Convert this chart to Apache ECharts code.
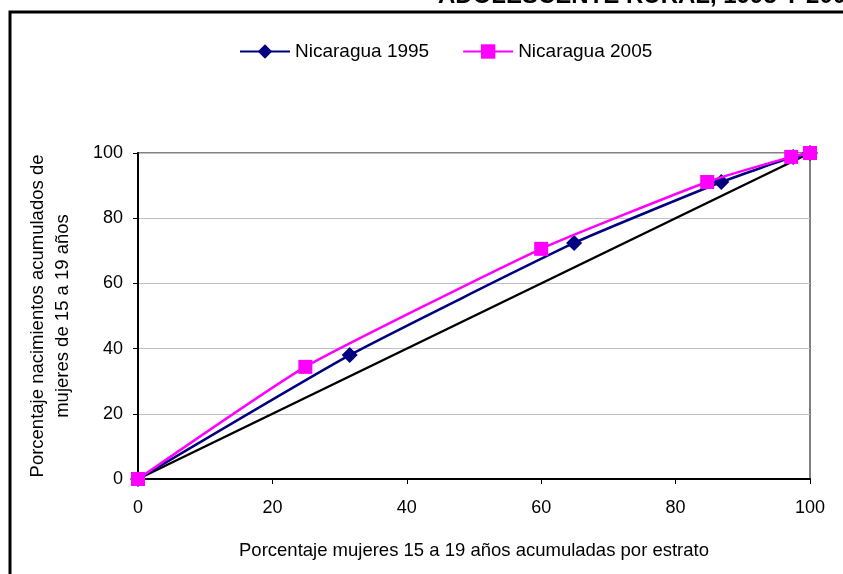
<!DOCTYPE html>
<html>
<head>
<meta charset="utf-8">
<script src="https://cdn.jsdelivr.net/npm/echarts@6/dist/echarts.min.js"></script>
<style>
  html, body { margin: 0; padding: 0; background: #fff; }
  #chart { width: 843px; height: 574px; }
</style>
</head>
<body>
<div id="chart"></div>
<script>
// Cumulative share of women 15-19 (x) vs cumulative share of births (y)
const x1995 = [0, 31.5, 64.9, 86.8, 97.5, 100];
const y1995 = [0, 38.0, 72.4, 91.1, 98.8, 100];
const x2005 = [0, 24.9, 60.0, 84.7, 97.2, 100];
const y2005 = [0, 34.4, 70.6, 91.1, 98.8, 100];
const xEqual = [0, 100];
const yEqual = [0, 100];
const seriesNames = ['Nicaragua 1995', 'Nicaragua 2005'];

const pair = (xs, ys) => xs.map((v, i) => [v, ys[i]]);
const FONT = '"Liberation Sans", Arial, sans-serif';

const chart = echarts.init(document.getElementById('chart'), null, { renderer: 'canvas' });
chart.setOption({
  backgroundColor: '#ffffff',
  animation: false,
  textStyle: { fontFamily: FONT, color: '#000' },
  graphic: [
    {
      type: 'rect',
      shape: { x: 10, y: 12, width: 900, height: 700 },
      style: { fill: 'none', stroke: '#000', lineWidth: 3 },
      z: 0
    },
    {
      type: 'text',
      x: 438, y: 8,
      style: {
        text: 'ADOLESCENTE RURAL, 1995 Y 2005',
        font: 'bold 24px ' + FONT,
        fill: '#000',
        verticalAlign: 'bottom'
      }
    }
  ],
  legend: {
    data: seriesNames,
    top: 37,
    left: 234,
    itemWidth: 50,
    itemHeight: 18,
    itemGap: 33,
    textStyle: { fontSize: 19, fontFamily: FONT, color: '#000' }
  },
  grid: {
    left: 138, right: 33, top: 153, bottom: 95,
    show: true,
    borderColor: '#808080',
    borderWidth: 2,
    containLabel: false
  },
  xAxis: {
    type: 'value',
    min: 0, max: 100, interval: 20,
    name: 'Porcentaje mujeres 15 a 19 años acumuladas por estrato',
    nameLocation: 'middle',
    nameGap: 62,
    nameTextStyle: { fontSize: 18.5, fontFamily: FONT, color: '#000' },
    axisLine: { lineStyle: { color: '#000', width: 2 } },
    axisTick: { show: true, inside: false, length: 5, lineStyle: { color: '#000', width: 1 } },
    axisLabel: { fontSize: 18, margin: 20, color: '#000', fontFamily: FONT },
    splitLine: { show: false }
  },
  yAxis: {
    type: 'value',
    min: 0, max: 100, interval: 20,
    name: 'Porcentaje nacimientos acumulados de\nmujeres de 15 a 19 años',
    nameLocation: 'middle',
    nameGap: 63,
    nameRotate: 90,
    nameTextStyle: { fontSize: 18.5, fontFamily: FONT, color: '#000', lineHeight: 25 },
    axisLine: { show: true, lineStyle: { color: '#000', width: 2 } },
    axisTick: { show: true, inside: false, length: 5, lineStyle: { color: '#000', width: 1 } },
    axisLabel: { fontSize: 18, margin: 15, color: '#000', fontFamily: FONT },
    splitLine: { show: true, lineStyle: { color: '#c0c0c0', width: 1 } }
  },
  series: [
    {
      name: 'igualdad',
      type: 'line',
      data: pair(xEqual, yEqual),
      symbol: 'none',
      lineStyle: { color: '#000', width: 2.5 },
      silent: true,
      z: 2
    },
    {
      name: seriesNames[0],
      type: 'line',
      data: pair(x1995, y1995),
      smooth: 0.15,
      symbol: 'diamond',
      symbolSize: 16,
      itemStyle: { color: '#000080' },
      lineStyle: { color: '#000080', width: 2.5 },
      z: 3
    },
    {
      name: seriesNames[1],
      type: 'line',
      data: pair(x2005, y2005),
      smooth: 0.15,
      symbol: 'rect',
      symbolSize: 14,
      itemStyle: { color: '#ff00ff' },
      lineStyle: { color: '#ff00ff', width: 2.5 },
      z: 4
    }
  ]
});
</script>
</body>
</html>
